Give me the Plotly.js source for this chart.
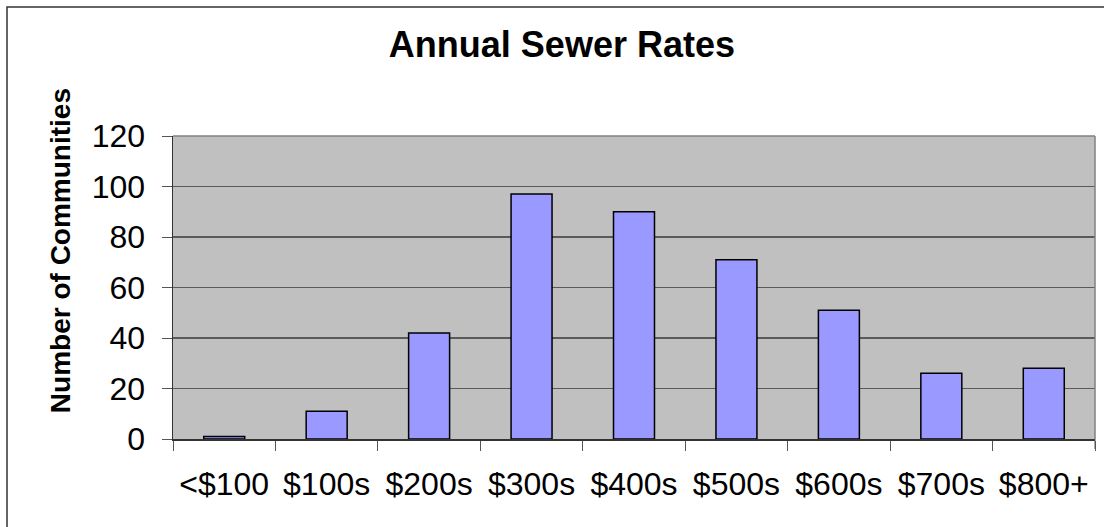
<!DOCTYPE html>
<html>
<head>
<meta charset="utf-8">
<script src="https://cdn.plot.ly/plotly-3.0.1.min.js"></script>
<style>
html,body{margin:0;padding:0;background:#fff;}
#chart{width:1104px;height:527px;}
</style>
</head>
<body>
<div id="chart"></div>
<script>
const categories = ['<$100', '$100s', '$200s', '$300s', '$400s', '$500s', '$600s', '$700s', '$800+'];
const communities = [1, 11, 42, 97, 90, 71, 51, 26, 28];
const yTicks = [0, 20, 40, 60, 80, 100, 120];

const FONT = 'Liberation Sans, Arial, sans-serif';

const trace = {
  type: 'bar',
  x: categories,
  y: communities,
  marker: { color: '#9999FF', line: { color: '#000000', width: 1.5 } },
  hoverinfo: 'x+y'
};

const layout = {
  width: 1104,
  height: 527,
  margin: { l: 173, r: 9, t: 136, b: 88, pad: 0 },
  paper_bgcolor: '#ffffff',
  plot_bgcolor: '#C0C0C0',
  showlegend: false,
  bargap: 0.6,
  font: { family: FONT, color: '#000000' },
  title: {
    text: '<b>Annual Sewer Rates</b>',
    font: { family: FONT, size: 36, color: '#000000' },
    xref: 'container', x: 0.509, xanchor: 'center',
    yref: 'container', y: 0.915, yanchor: 'middle'
  },
  xaxis: {
    type: 'category',
    tickson: 'boundaries',
    ticks: 'outside',
    ticklen: 10,
    tickcolor: '#555555',
    tickwidth: 1,
    showline: true,
    linecolor: '#333333',
    linewidth: 1.5,
    showgrid: false,
    ticklabelstandoff: 16,
    tickfont: { family: FONT, size: 32, color: '#000000' }
  },
  yaxis: {
    range: [0, 120],
    tickvals: yTicks,
    ticks: 'outside',
    ticklen: 10,
    tickcolor: '#555555',
    tickwidth: 1,
    showline: true,
    linecolor: '#333333',
    linewidth: 1.5,
    showgrid: true,
    gridcolor: '#5a5a5a',
    gridwidth: 1.2,
    zeroline: false,
    ticklabelstandoff: 10,
    tickfont: { family: FONT, size: 32, color: '#000000' }
  },
  annotations: [{
    text: '<b>Number of Communities</b>',
    textangle: -90,
    xref: 'paper', yref: 'paper',
    x: (60 - 173) / 922, y: 0.62,
    xanchor: 'center', yanchor: 'middle',
    showarrow: false,
    font: { family: FONT, size: 28, color: '#000000' }
  }],
  shapes: [
    { type: 'line', xref: 'paper', yref: 'paper', x0: 0, x1: 1, y0: 1, y1: 1, line: { color: '#808080', width: 1.5 } },
    { type: 'line', xref: 'paper', yref: 'paper', x0: 1, x1: 1, y0: 0, y1: 1, line: { color: '#808080', width: 1.5 } },
    { type: 'line', xref: 'paper', yref: 'paper', x0: 1, x1: 1, y0: 0, y1: -0.033, line: { color: '#555555', width: 1 } },
    { type: 'rect', xref: 'paper', yref: 'paper', x0: (7 - 173) / 922, x1: 1.2, y0: (439.3 - 6.5) / 303.6, y1: -0.5, line: { color: '#333333', width: 1.5 }, layer: 'below' }
  ]
};

Plotly.newPlot('chart', [trace], layout, { displayModeBar: false, staticPlot: true });
</script>
</body>
</html>
